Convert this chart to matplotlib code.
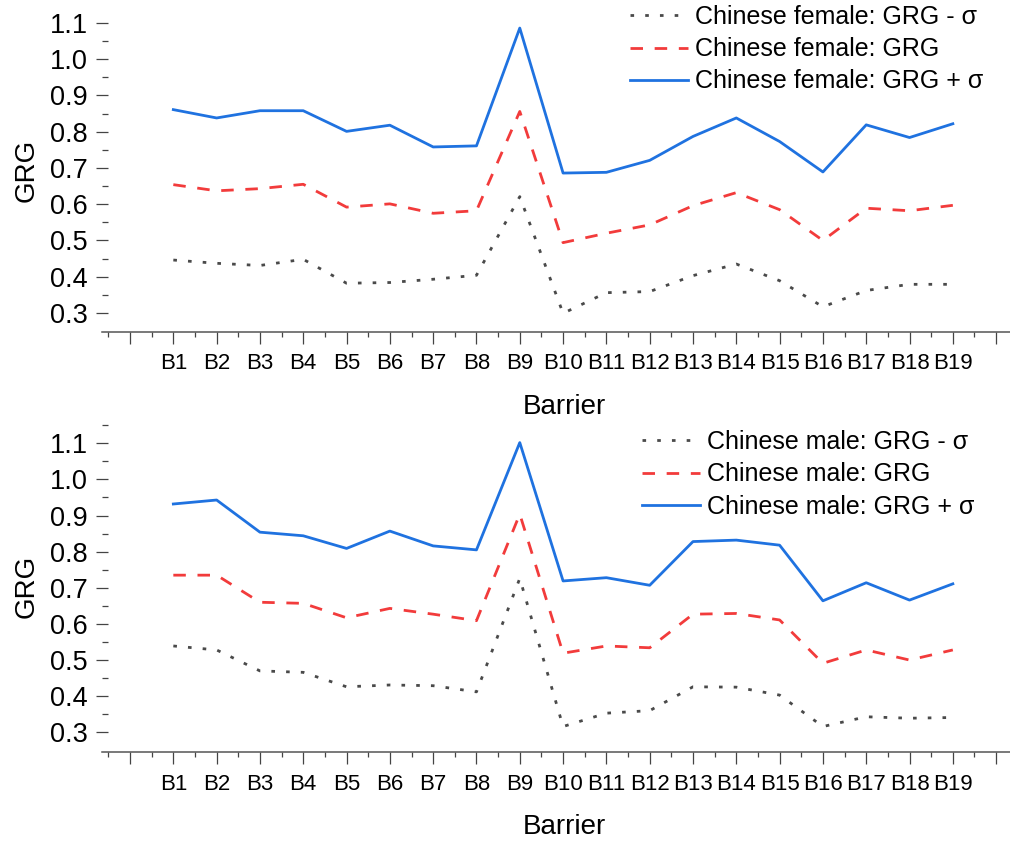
import matplotlib
matplotlib.use("Agg")
import matplotlib.pyplot as plt
from matplotlib.ticker import FixedLocator
import numpy as np

plt.rcParams['font.family'] = ['Liberation Sans', 'DejaVu Sans']

barriers = [f"B{i}" for i in range(1, 20)]

female_minus = [0.446, 0.437, 0.431, 0.448, 0.382, 0.384, 0.393, 0.404, 0.621, 0.299,
                0.356, 0.359, 0.403, 0.435, 0.389, 0.317, 0.362, 0.379, 0.379]
female_mean = [0.654, 0.637, 0.643, 0.655, 0.592, 0.601, 0.575, 0.582, 0.856, 0.494,
               0.520, 0.543, 0.596, 0.632, 0.585, 0.500, 0.589, 0.582, 0.597]
female_plus = [0.861, 0.838, 0.858, 0.858, 0.801, 0.818, 0.758, 0.761, 1.086, 0.686,
               0.688, 0.721, 0.787, 0.838, 0.773, 0.689, 0.819, 0.784, 0.822]

male_minus = [0.539, 0.528, 0.470, 0.466, 0.426, 0.431, 0.429, 0.412, 0.726, 0.316,
              0.353, 0.360, 0.426, 0.425, 0.403, 0.316, 0.343, 0.339, 0.341]
male_mean = [0.735, 0.735, 0.660, 0.657, 0.617, 0.643, 0.627, 0.609, 0.904, 0.519,
             0.539, 0.534, 0.627, 0.629, 0.611, 0.491, 0.528, 0.500, 0.528]
male_plus = [0.932, 0.943, 0.854, 0.844, 0.809, 0.857, 0.816, 0.805, 1.102, 0.719,
             0.728, 0.707, 0.828, 0.832, 0.818, 0.664, 0.714, 0.666, 0.711]

yticks = [0.3, 0.4, 0.5, 0.6, 0.7, 0.8, 0.9, 1.0, 1.1]

W, H = 1010, 841
fig = plt.figure(figsize=(W / 100, H / 100), dpi=100)


def rect(l, r, t, b):
    return [l / W, 1 - b / H, (r - l) / W, (b - t) / H]


C_GRAY = '#4a4a4a'
C_RED = '#f23b3b'
C_BLUE = '#1f72e0'


def axr_center(axr):
    return 1 - (axr[1] + axr[3] / 2)


def make_panel(axr, minus, mean, plus, who, ylim, minor_top, xlab_y, leg_anchor):
    ax = fig.add_axes(axr)
    x = np.arange(1, len(barriers) + 1)
    ax.plot(x, minus, color=C_GRAY, lw=2.0, linestyle=(0, (1.3, 4.0)),
            label=f"Chinese {who}: GRG - σ")
    ax.plot(x, mean, color=C_RED, lw=2.0, linestyle=(0, (4.5, 4.2)),
            label=f"Chinese {who}: GRG")
    ax.plot(x, plus, color=C_BLUE, lw=2.0, label=f"Chinese {who}: GRG + σ")
    ax.set_xlim(-0.647, 20.32)
    ax.set_ylim(*ylim)
    for s in ['top', 'right']:
        ax.spines[s].set_visible(False)
    ax.spines['left'].set_position(('outward', -4.3))
    ax.spines['left'].set_color('none')
    ax.spines['bottom'].set_color('#555555')
    ax.spines['bottom'].set_linewidth(1.1)
    ticks = list(range(0, 21))
    labels = [''] + barriers + ['']
    ax.set_xticks(ticks)
    ax.set_xticklabels(labels, fontsize=16)
    ax.xaxis.set_minor_locator(FixedLocator([t + 0.5 for t in range(-1, 21)]))
    ax.set_yticks(yticks)
    ax.set_yticklabels([f"{v:.1f}" for v in yticks], fontsize=19.5)
    ax.yaxis.set_minor_locator(FixedLocator(list(np.arange(0.35, minor_top + 0.001, 0.1))))
    ax.tick_params(axis='x', which='major', length=8.5, width=0.9, color='#444444', pad=7)
    ax.tick_params(axis='x', which='minor', length=3.8, width=0.9, color='#444444')
    ax.tick_params(axis='y', which='major', length=8.5, width=0.9, color='#444444', pad=6)
    ax.tick_params(axis='y', which='minor', length=4.3, width=0.9, color='#444444')
    ax.set_ylabel("GRG", fontsize=20)
    ax.yaxis.set_label_coords(40 / W, 1 - axr_center(axr), transform=fig.transFigure)
    ax.set_xlabel("Barrier", fontsize=20)
    ax.xaxis.set_label_coords(564 / W, 1 - xlab_y / H, transform=fig.transFigure)
    ax.legend(loc='upper left', bbox_to_anchor=(leg_anchor[0] / W, 1 - leg_anchor[1] / H),
              bbox_transform=fig.transFigure, frameon=False, fontsize=18,
              handlelength=2.3, handletextpad=0.3, labelspacing=0.33, borderpad=0,
              borderaxespad=0)
    return ax


make_panel(rect(102, 1010, 8.5, 331.7), female_minus, female_mean, female_plus, 'female',
           (0.2483, 1.14), 1.05, 394, (630, 5))
make_panel(rect(102, 1010, 420, 752), male_minus, male_mean, male_plus, 'male',
           (0.2455, 1.1645), 1.15, 814, (642, 430))

fig.savefig("out.png", dpi=100)
